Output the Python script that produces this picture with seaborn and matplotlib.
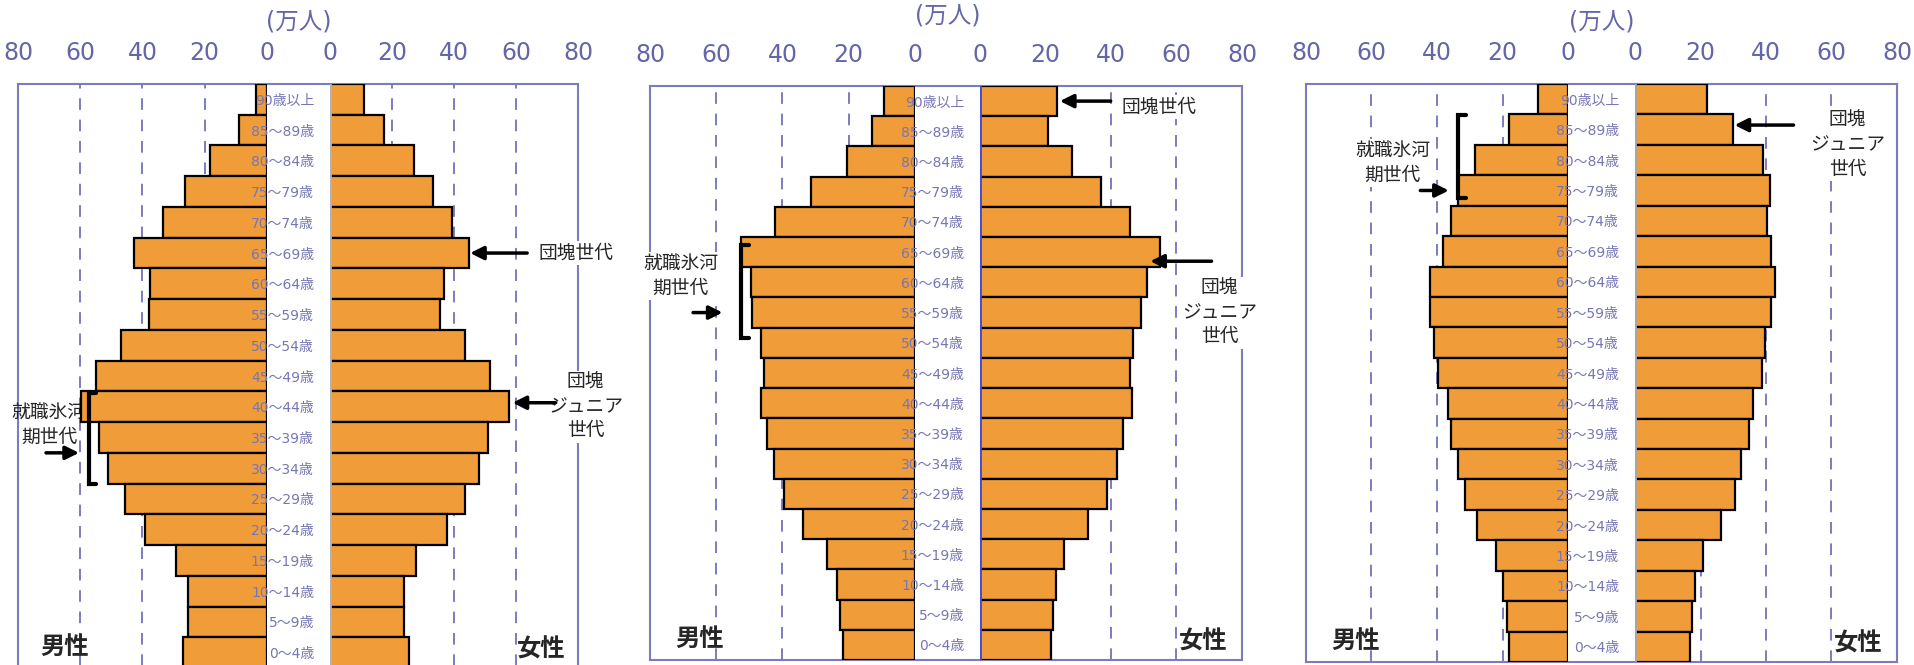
import numpy as np
import pandas as pd
import matplotlib.pyplot as plt
import seaborn as sns

sns.set_style('white')
plt.rcParams['font.family'] = ['Noto Sans CJK JP', 'DejaVu Sans']

# 年齢階級（上から）
ages = ['90歳以上', '85～89歳', '80～84歳', '75～79歳', '70～74歳', '65～69歳',
        '60～64歳', '55～59歳', '50～54歳', '45～49歳', '40～44歳', '35～39歳',
        '30～34歳', '25～29歳', '20～24歳', '15～19歳', '10～14歳', '5～9歳', '0～4歳']

# 人口（万人）
male_1 = [3.5, 9.0, 18.4, 26.3, 33.3, 42.7, 37.6, 38.0, 46.9, 54.8,
          59.6, 54.1, 51.1, 45.5, 39.3, 29.2, 25.5, 25.5, 27.1]
female_1 = [11.0, 17.5, 27.1, 33.3, 39.2, 44.8, 36.9, 35.5, 43.4, 51.6,
            57.6, 51.0, 48.1, 43.4, 37.8, 27.6, 23.9, 23.9, 25.5]

male_2 = [9.3, 13.0, 20.4, 31.5, 42.2, 52.5, 49.4, 49.1, 46.4, 45.6,
          46.4, 44.8, 42.6, 39.6, 33.7, 26.6, 23.6, 22.7, 21.7]
female_2 = [23.6, 20.7, 28.1, 37.0, 45.8, 55.1, 51.1, 49.1, 46.7, 45.8,
            46.3, 43.7, 41.9, 38.9, 33.0, 25.6, 23.1, 22.2, 21.6]

male_3 = [9.1, 18.0, 28.4, 33.5, 35.7, 38.2, 42.0, 42.2, 41.0, 39.6,
          36.5, 35.6, 33.5, 31.6, 27.7, 22.0, 19.8, 18.7, 18.1]
female_3 = [21.9, 29.9, 39.0, 41.2, 40.4, 41.4, 42.8, 41.5, 39.7, 38.9,
            36.0, 34.7, 32.4, 30.6, 26.2, 20.9, 18.3, 17.5, 16.9]

ticks_m = [80, 60, 40, 20, 0]
ticks_f = [0, 20, 40, 60, 80]

ORANGE = '#F09C38'
PURPLE = '#6466a8'
GRID = '#7c7cbc'
W, H = 1915, 665

fig = plt.figure(figsize=(W / 100, H / 100), dpi=100)


def frac(x0, x1, y0, y1):
    return [x0 / W, 1 - y1 / H, (x1 - x0) / W, (y1 - y0) / H]


# パネルの配置（ピクセル）
panels = [
    dict(male=male_1, female=female_1, left=18, m0=267, f0=330, right=578,
         top=84, bottom=668, zero='#b4b4b4', unit_y=21),
    dict(male=male_2, female=female_2, left=650, m0=915, f0=980, right=1242,
         top=86, bottom=660, zero='#4848d0', unit_y=15),
    dict(male=male_3, female=female_3, left=1306, m0=1568, f0=1635, right=1897,
         top=84, bottom=662, zero='#a8a8a8', unit_y=21),
]

axes = []
for p in panels:
    df = pd.DataFrame({'age': ages, 'male': p['male'], 'female': p['female']})

    axfr = fig.add_axes(frac(p['left'], p['right'], p['top'], p['bottom']))
    axfr.set_xticks([])
    axfr.set_yticks([])
    for s in axfr.spines.values():
        s.set_color(GRID)
        s.set_linewidth(1.5)

    axm = fig.add_axes(frac(p['left'], p['m0'], p['top'], p['bottom']))
    axf = fig.add_axes(frac(p['f0'], p['right'], p['top'], p['bottom']))

    sns.barplot(data=df, x='male', y='age', orient='h', color=ORANGE,
                saturation=1, width=1.0, edgecolor='black', linewidth=1.6,
                ax=axm)
    sns.barplot(data=df, x='female', y='age', orient='h', color=ORANGE,
                saturation=1, width=1.0, edgecolor='black', linewidth=1.6,
                ax=axf)

    axm.set_xlim(80, 0)
    axf.set_xlim(0, 80)
    for ax, t in ((axm, ticks_m), (axf, ticks_f)):
        ax.set_facecolor('none')
        ax.set_ylim(18.5, -0.5)
        ax.set_xlabel('')
        ax.set_ylabel('')
        for s in ax.spines.values():
            s.set_visible(False)
        for g in (20, 40, 60):
            ax.axvline(g, color=GRID, lw=1.4, ls=(0, (6, 5)), zorder=0)
        ax.xaxis.tick_top()
        ax.set_xticks(t)
        ax.set_xticklabels([str(v) for v in t], fontsize=17, color=PURPLE,
                           family='DejaVu Sans')
        ax.tick_params(axis='x', length=0, pad=14)

    axm.tick_params(axis='y', left=False, labelleft=False)
    axf.set_yticks(range(len(ages)))
    axf.set_yticklabels(ages, fontsize=10, color='#7676b4',
                        family=['DejaVu Sans', 'Noto Sans CJK JP'])
    axf.tick_params(axis='y', length=0, pad=11.5)
    axf.axvline(0, color=p['zero'], lw=2, zorder=3)

    fig.text((p['m0'] + p['f0']) / 2 / W, 1 - p['unit_y'] / H, '(万人)',
             ha='center', va='center', fontsize=17, color=PURPLE,
             family=['DejaVu Sans', 'Noto Sans CJK JP'])

    axm.text(65, 17.8, '男性', ha='center', va='center', fontsize=17.5,
             fontweight='bold', clip_on=False)
    axf.text(68, 17.9, '女性', ha='center', va='center', fontsize=17.5,
             fontweight='bold', clip_on=False)
    axes.append((axm, axf))

arrow = dict(arrowstyle='-|>', color='black', lw=2.5, mutation_scale=20,
             shrinkA=0, shrinkB=0)
box = dict(facecolor='white', edgecolor='none', pad=1)


def note(ax, text, tx, ty, tip, tail, fs=13.5, ls=1.2, bbox=box, z=5):
    ax.annotate('', xy=tip, xytext=tail, arrowprops=arrow,
                annotation_clip=False, zorder=6)
    ax.text(tx, ty, text, ha='center', va='center', fontsize=fs,
            linespacing=ls, bbox=bbox, zorder=z, clip_on=False)


def bracket(ax, x, y0, y1, dx=2.4):
    ax.plot([x - dx, x, x, x - dx], [y0, y0, y1, y1], color='black', lw=3,
            solid_joinstyle='miter', clip_on=False, zorder=6)


# パネル1
m, f = axes[0]
note(f, '団塊世代', 79.5, 5.0, (45.2, 5.0), (63.6, 5.0))
note(f, '団塊\nジュニア\n世代', 82.4, 10.0, (58.9, 9.87), (72.8, 9.87))
note(m, '就職氷河\n期世代', 70, 10.6, (60.4, 11.5), (71, 11.5), bbox=None, z=0.5)
bracket(m, 57.3, 9.55, 12.5)

# パネル2
m, f = axes[1]
note(f, '団塊世代', 54.8, 0.2, (24.4, 0.0), (39.9, 0.0))
note(f, '団塊\nジュニア\n世代', 73.2, 7.0, (52.0, 5.3), (70.7, 5.3))
note(m, '就職氷河\n期世代', 70.7, 5.8, (58.1, 7.0), (67, 7.0))
bracket(m, 52.6, 4.75, 7.85)

# パネル3
m, f = axes[2]
note(f, '団塊\nジュニア\n世代', 64.9, 1.5, (30.4, 0.85), (48.4, 0.85))
note(m, '就職氷河\n期世代', 53.6, 2.1, (36.4, 3.0), (45.1, 3.0))
bracket(m, 33.5, 0.52, 3.26)

fig.savefig('out.png', dpi=100)
